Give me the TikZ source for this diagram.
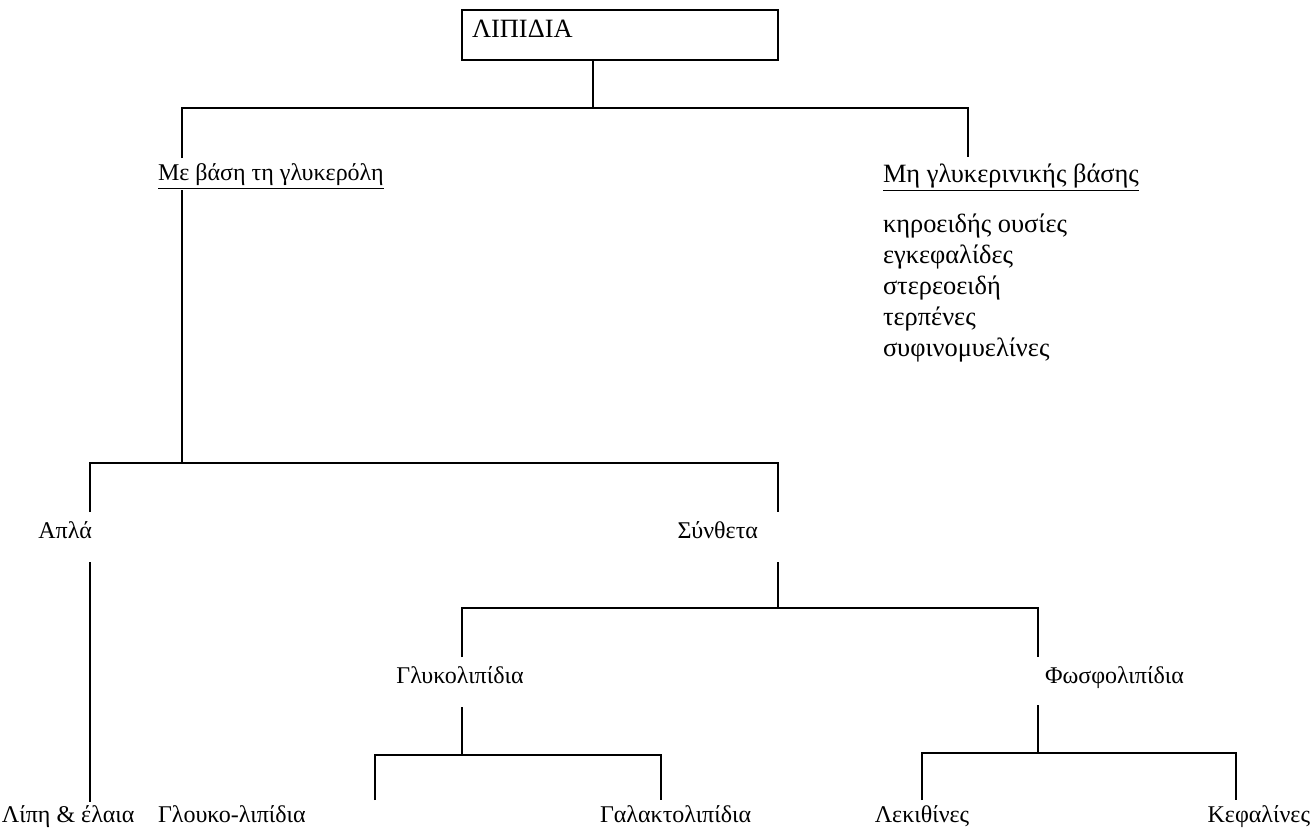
\documentclass[tikz,border=0pt]{standalone}
\usepackage{fontspec}
\setmainfont{Liberation Serif}
\begin{document}
\begin{tikzpicture}[x=0.5pt,y=-0.5pt,
  line width=0.8pt,
  txt/.style={font=\fontsize{12}{14}\selectfont, inner sep=0pt, outer sep=0pt},
  bigtxt/.style={font=\fontsize{13.2}{15}\selectfont, inner sep=0pt, outer sep=0pt},
  rootbox/.style={draw, line width=0.8pt, minimum width=158pt, minimum height=25pt, inner sep=0pt},
  link/.style={draw, line width=0.8pt}]
\useasboundingbox (0,0) rectangle (1312,832);

% root
\node[rootbox] (root) at (620,35) {};
\node[bigtxt, anchor=base west] (roottxt) at (472,37) {ΛΙΠΙΔΙΑ};

% level 1
\node[txt, anchor=base west] (glyc) at (158,180) {\underline{Με βάση τη γλυκερόλη}};
\node[bigtxt, anchor=base west] (nonglyc) at (883,182) {\underline{Μη γλυκεριvικής βάσης}};
\node[bigtxt, anchor=base west] (l1) at (883,232) {κηροειδής ουσίες};
\node[bigtxt, anchor=base west] (l2) at (883,263) {εγκεφαλίδες};
\node[bigtxt, anchor=base west] (l3) at (883,294) {στερεοειδή};
\node[bigtxt, anchor=base west] (l4) at (883,325) {τερπένες};
\node[bigtxt, anchor=base west] (l5) at (883,356) {συφινομυελίνες};

% level 2
\node[txt, anchor=base east] (simple) at (92,538) {Απλά};
\node[txt, anchor=base east] (complex) at (758,538) {Σύνθετα};

% level 3
\node[txt, anchor=base] (glyco) at (460,683) {Γλυκολιπίδια};
\node[txt, anchor=base west] (phospho) at (1045,683) {Φωσφολιπίδια};

% leaves
\node[txt, anchor=base west] (fats) at (2,822) {Λίπη \& έλαια};
\node[txt, anchor=base west] (gluco) at (158,822) {Γλουκο-λιπίδια};
\node[txt, anchor=base west] (galacto) at (600,822) {Γαλακτολιπίδια};
\node[txt, anchor=base] (lecith) at (922,822) {Λεκιθίνες};
\node[txt, anchor=base east] (cephal) at (1310,822) {Κεφαλίνες};

% junction coordinates
\coordinate (j1) at (593,108);
\coordinate (a1) at (182,108);
\coordinate (b1) at (968,108);
\coordinate (a1e) at (182,158);
\coordinate (b1e) at (968,157);
\coordinate (g0) at (182,190);
\coordinate (j2) at (182,463);
\coordinate (a2) at (90,463);
\coordinate (b2) at (778,463);
\coordinate (a2e) at (90,512);
\coordinate (b2e) at (778,512);
\coordinate (s0) at (90,562);
\coordinate (s1) at (90,802);
\coordinate (c0) at (778,562);
\coordinate (j3) at (778,608);
\coordinate (a3) at (462,608);
\coordinate (b3) at (1038,608);
\coordinate (a3e) at (462,657);
\coordinate (b3e) at (1038,657);
\coordinate (g1) at (462,707);
\coordinate (j4) at (462,755);
\coordinate (a4) at (375,755);
\coordinate (b4) at (661,755);
\coordinate (a4e) at (375,800);
\coordinate (b4e) at (661,800);
\coordinate (p1) at (1038,705);
\coordinate (j5) at (1038,753);
\coordinate (a5) at (922,753);
\coordinate (b5) at (1236,753);
\coordinate (a5e) at (922,800);
\coordinate (b5e) at (1236,800);

% connectors
\draw[link] (root.south -| j1) -- (j1);
\draw[link] (a1e) -- (a1) -- (b1) -- (b1e);
\draw[link] (g0) -- (j2);
\draw[link] (a2e) -- (a2) -- (b2) -- (b2e);
\draw[link] (s0) -- (s1);
\draw[link] (c0) -- (j3);
\draw[link] (a3e) -- (a3) -- (b3) -- (b3e);
\draw[link] (g1) -- (j4);
\draw[link] (a4e) -- (a4) -- (b4) -- (b4e);
\draw[link] (p1) -- (j5);
\draw[link] (a5e) -- (a5) -- (b5) -- (b5e);
\end{tikzpicture}
\end{document}
